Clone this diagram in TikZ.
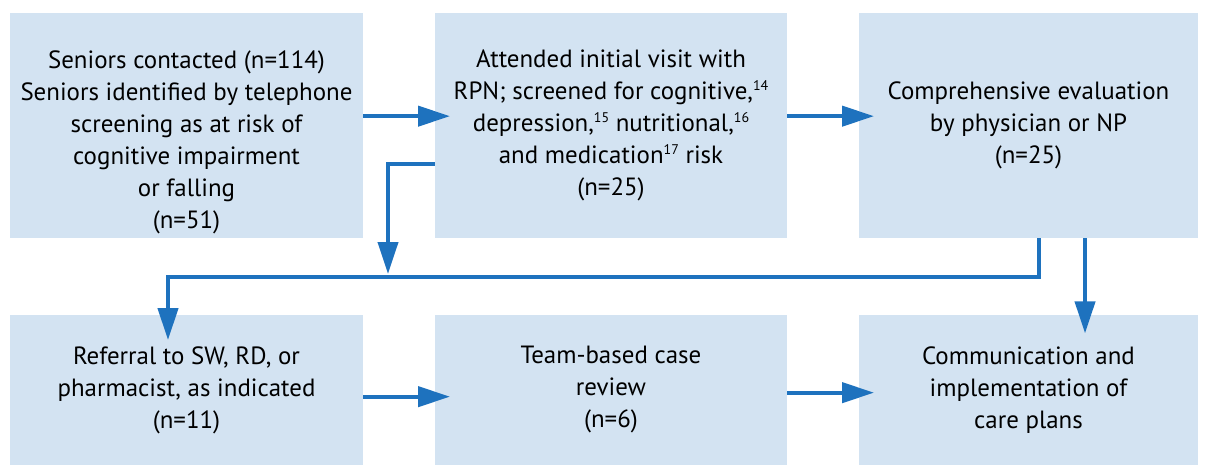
\documentclass[tikz,border=0pt]{standalone}
\usepackage{fontspec}
\setmainfont{PT Sans}
\usetikzlibrary{arrows.meta,positioning}

\definecolor{boxblue}{RGB}{211,227,242}
\definecolor{arrowblue}{RGB}{30,114,190}

\newcommand{\refsup}[1]{\raisebox{6.5pt}{\fontsize{10.5}{10.5}\selectfont #1}}

\tikzset{
  box/.style={fill=boxblue, draw=none, align=center, inner sep=0pt,
    font=\fontsize{18.7}{24}\selectfont},
  topbox/.style={box, minimum height=168.75pt},
  lowbox/.style={box, minimum height=112.5pt},
  link/.style={arrowblue, line width=3pt},
  flow/.style={link, -{Triangle[length=24pt,width=15pt]}, shorten >=-11.5pt},
}

\begin{document}
\begin{tikzpicture}[x=0.75pt,y=-0.75pt]
\useasboundingbox (0,0) rectangle (1208,467);

%top row
\node[topbox, minimum width=264.75pt] (screen) at (186.5,125.5)
  {\rule{0pt}{38pt}Seniors contacted (n=114)\\Seniors identified by telephone\\screening as at risk of\\cognitive impairment\\or falling\\(n=51)};
\node[topbox, minimum width=264pt] (visit) at (611,125.5)
  {Attended initial visit with\\RPN; screened for cognitive,\refsup{14}\\depression,\refsup{15} nutritional,\refsup{16}\\and medication\refsup{17} risk\\(n=25)};
\node[topbox, minimum width=254.25pt] (evalu) at (1028.5,125.5)
  {Comprehensive evaluation\\by physician or NP\\(n=25)};

%bottom row
\node[lowbox, minimum width=264.75pt] (referral) at (186.5,390)
  {Referral to SW, RD, or\\pharmacist, as indicated\\(n=11)};
\node[lowbox, minimum width=264pt] (review) at (611,390)
  {Team-based case\\review\\(n=6)};
\node[lowbox, minimum width=254.25pt] (plans) at (1028.5,390)
  {Communication and\\implementation of\\care plans};

%bus line
\coordinate (bend) at (168,277);
\coordinate (junc) at (388,274);

%arrows
\draw[flow] ([yshift=7pt]screen.east) -- ([yshift=7pt]visit.west);
\draw[flow] ([yshift=7pt]visit.east) -- ([yshift=7pt]evalu.west);
\draw[flow, shorten >=0pt] ([yshift=-29pt]visit.west) -| (junc);
\draw[flow, shorten >=-19pt] ([xshift=7.9pt]evalu.south) |- (bend) -- (bend |- referral.north);
\draw[flow, shorten >=-14pt] ([xshift=42.4pt]evalu.south) -- ([xshift=42.4pt]plans.north);
\draw[flow] ([yshift=-5pt]referral.east) -- ([yshift=-5pt]review.west);
\draw[flow] ([yshift=-2pt]review.east) -- ([yshift=-2pt]plans.west);
\end{tikzpicture}
\end{document}
